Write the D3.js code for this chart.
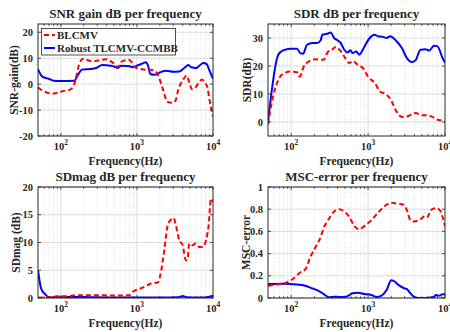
<!DOCTYPE html>
<html><head><meta charset="utf-8">
<script src="https://cdn.jsdelivr.net/npm/d3@7/dist/d3.min.js"></script>
<style>
body{margin:0;background:#fff;}
svg text{font-family:"Liberation Serif","Times New Roman",serif;font-weight:bold;fill:#262626;}
</style></head>
<body><svg id="c" width="450" height="332"></svg>
<script>
// ---------- DATA ----------
const seriesNames = ["BLCMV", "Robust TLCMV-CCMBB"];
const xTickValues = [100, 1000, 10000];
const xTickExponents = ["2", "3", "4"];

// Panel 1: SNR gain
const snrRedF = [50,57,65,78,90,110,130,145,160,175,195,220,260,330,400,470,520,560,620,700,800,870,950,1100,1300,1500,1750,1950,2200,2500,2900,3200,3500,4000,4500,4900,5300,5800,6500,7200,7800,8400,9000,9500,10000];
const snrRedV = [-1.3,-2.5,-3.2,-3.6,-3.3,-2.6,-2.2,-1.0,3,8,9.7,9.3,8.8,9.3,9.6,8.5,7.5,6.6,8.5,9.2,9.3,8.0,6.5,5.9,5.6,5.6,5.0,2.5,-2,-6.8,-7.2,-6.5,-2.0,1.5,3.3,0.5,-2.0,-1.5,0.5,1.8,0.5,-1.0,-6.0,-9.5,-12.5];
const snrBlueF = [50,57,70,80,100,150,165,190,240,290,350,450,500,560,620,800,900,1000,1200,1300,1400,1500,1700,2000,2400,3000,3600,4300,4700,5200,6000,6600,7500,8200,9000,10000];
const snrBlueV = [5.8,2.9,2.0,1.3,1.2,1.3,3.2,5.6,5.8,6.2,7.4,7.1,6.8,6.2,7.1,6.9,6.5,7.1,8.0,8.4,7.1,3.9,3.6,4.5,5.2,4.8,4.9,6.5,7.4,6.5,6.2,7.1,8.2,7.8,5.2,2.0];
const snrTicks = [-20,-10,0,10,20];

// Panel 2: SDR
const sdrRedF = [50,58,72,83,97,119,129,146,169,208,242,262,296,345,380,420,490,570,630,735,860,1000,1230,1440,1650,1930,2360,2750,3200,4130,5100,5900,6900,8000,9300,10000];
const sdrRedV = [-0.8,9,16.2,17.6,18,17.8,16.2,19.8,21.6,22.4,22.2,22.2,24.8,26,26.8,26,23.4,21,21.8,20.4,19.2,16.2,13.8,10.8,10.2,8.4,3.6,1.8,2,3.2,2.4,2.4,1.8,0.8,0.4,0];
const sdrBlueF = [50,68,79,97,119,131,143,161,188,218,242,254,296,327,362,400,442,490,542,588,630,700,774,830,900,1050,1200,1350,1570,1740,1930,2250,2750,3200,3720,4130,4800,5600,6200,7200,8000,9300,10000];
const sdrBlueV = [0,24,25.6,26.2,26.2,24.6,24.4,27.6,28.2,28.2,29.2,31.2,31.5,32,30,29.2,28.2,25.8,24.8,25.6,24.6,25.2,24,25.2,27,30,31.2,30.6,30.4,30,30.6,29.4,26.4,22.8,21.4,22,25.8,26,25.5,27.2,27,22.8,21.2];
const sdrTicks = [0,10,20,30];

// Panel 3: SDmag
const sdmRedF = [50,60,70,90,130,150,300,500,800,877,1060,1300,1530,1880,2070,2300,2540,2800,3030,3250,3600,3990,4400,4640,4870,5400,5850,6600,7300,8100,8760,9400,10000];
const sdmRedV = [0.05,0.1,0.15,0.3,0.35,0.5,0.5,0.45,0.5,1.1,1.6,2.1,2.6,2.8,4.7,8.9,13.1,14.1,14.4,13.1,10.4,9.5,6.8,7.1,9.8,9.5,9.8,9.2,9.2,10.4,13.1,17.9,17.3];
const sdmBlueF = [50,55,62,70,100,150,250,400,1000,2000,3500,4000,4500,6000,8000,9000,10000];
const sdmBlueV = [5,1.7,0.7,0.1,0.15,0.2,0.15,0.1,0.1,0.1,0.15,0.35,0.15,0.1,0.1,0.25,0.4];
const sdmTicks = [0,5,10,15,20];

// Panel 4: MSC-error
const mscRedF = [50,65,88,107,131,153,178,208,242,268,296,327,362,420,490,570,660,770,900,1100,1350,1660,2000,2360,2900,3200,3550,3930,4800,5500,5900,6500,7600,8600,9300,10000];
const mscRedV = [0.11,0.122,0.14,0.176,0.23,0.26,0.37,0.46,0.55,0.64,0.69,0.74,0.78,0.80,0.78,0.73,0.65,0.62,0.65,0.70,0.77,0.83,0.857,0.85,0.84,0.79,0.70,0.69,0.71,0.74,0.73,0.79,0.81,0.79,0.73,0.645];
const mscBlueF = [50,79,119,153,188,230,268,311,362,420,516,630,740,900,1100,1290,1500,1740,2000,2150,2500,2900,3200,3550,3930,4600,6200,7200,7600,8400,9300,10000];
const mscBlueV = [0.125,0.128,0.122,0.11,0.087,0.063,0.033,0.006,0.012,0.009,0.012,0.042,0.048,0.036,0.027,0.009,0.021,0.072,0.16,0.155,0.116,0.09,0.08,0.042,0.012,0.0,0.003,0.009,0.027,0.021,0.033,0.033];
const mscTicks = [0,0.2,0.4,0.6,0.8,1];

// ---------- DRAW ----------
const svg = d3.select("#c");
const colors = ["#ff0000", "#0000ff"];

const panels = [
  {title:"SNR gain dB per frequency", ylabel:"SNR-gain(dB)", box:[38,213,24,136], yd:[-20,23.2], yt:snrTicks, fmt:d=>d,
   red:[snrRedF,snrRedV], blue:[snrBlueF,snrBlueV], legend:true, titleY:18, ylx:14},
  {title:"SDR dB per frequency", ylabel:"SDR(dB)", box:[268,445,24,136], yd:[-5,35], yt:sdrTicks, fmt:d=>d,
   red:[sdrRedF,sdrRedV], blue:[sdrBlueF,sdrBlueV], legend:false, titleY:18, ylx:247},
  {title:"SDmag dB per frequency", ylabel:"SDmag (dB)", box:[38,213,187,298], yd:[0,20], yt:sdmTicks, fmt:d=>d,
   red:[sdmRedF,sdmRedV], blue:[sdmBlueF,sdmBlueV], legend:false, titleY:181, ylx:16},
  {title:"MSC-error per frequency", ylabel:"MSC-error", box:[268,445,187,298], yd:[0,1], yt:mscTicks, fmt:d=>d===0?"0":d===1?"1":d3.format(".1f")(d),
   red:[mscRedF,mscRedV], blue:[mscBlueF,mscBlueV], legend:false, titleY:181, ylx:246}
];

const minorX = [];
for (const dec of [10,100,1000]) for (let k=2;k<=9;k++) { const v=k*dec; if (v>50 && v<10000) minorX.push(v); }

panels.forEach((p,i) => {
  const [L,R,T,B] = p.box;
  const x = d3.scaleLog().domain([50,10000]).range([L,R]);
  const y = d3.scaleLinear().domain(p.yd).range([B,T]);
  const g = svg.append("g");

  // minor x grid (dotted)
  g.selectAll(null).data(minorX).join("line")
    .attr("x1",d=>x(d)).attr("x2",d=>x(d)).attr("y1",T).attr("y2",B)
    .attr("stroke","#c8c8c8").attr("stroke-width",0.6).attr("stroke-dasharray","1,1.5");
  // major grid
  g.selectAll(null).data(xTickValues.filter(d=>d<10000)).join("line")
    .attr("x1",d=>x(d)).attr("x2",d=>x(d)).attr("y1",T).attr("y2",B)
    .attr("stroke","#dcdcdc").attr("stroke-width",1);
  g.selectAll(null).data(p.yt).join("line")
    .attr("x1",L).attr("x2",R).attr("y1",d=>y(d)).attr("y2",d=>y(d))
    .attr("stroke","#dcdcdc").attr("stroke-width",1);

  // clip
  const cid = "clip"+i;
  svg.append("clipPath").attr("id",cid).append("rect").attr("x",L).attr("y",T).attr("width",R-L).attr("height",B-T);

  const line = d3.line().x(d=>x(d[0])).y(d=>y(d[1])).curve(d3.curveMonotoneX);
  const lg = g.append("g").attr("clip-path",`url(#${cid})`);
  lg.append("path").datum(p.blue[0].map((f,j)=>[f,p.blue[1][j]]))
    .attr("d",line).attr("fill","none").attr("stroke",colors[1]).attr("stroke-width",2);
  lg.append("path").datum(p.red[0].map((f,j)=>[f,p.red[1][j]]))
    .attr("d",line).attr("fill","none").attr("stroke",colors[0]).attr("stroke-width",2).attr("stroke-dasharray","5,3");

  // ticks: major and minor, inward, all sides
  const tk = g.append("g").attr("stroke","#262626").attr("stroke-width",0.8);
  xTickValues.forEach(v=>{
    tk.append("line").attr("x1",x(v)).attr("x2",x(v)).attr("y1",B).attr("y2",B-3);
    tk.append("line").attr("x1",x(v)).attr("x2",x(v)).attr("y1",T).attr("y2",T+3);
  });
  minorX.forEach(v=>{
    tk.append("line").attr("x1",x(v)).attr("x2",x(v)).attr("y1",B).attr("y2",B-1.8);
    tk.append("line").attr("x1",x(v)).attr("x2",x(v)).attr("y1",T).attr("y2",T+1.8);
  });
  p.yt.forEach(v=>{
    tk.append("line").attr("x1",L).attr("x2",L+3).attr("y1",y(v)).attr("y2",y(v));
    tk.append("line").attr("x1",R).attr("x2",R-3).attr("y1",y(v)).attr("y2",y(v));
  });

  // frame
  g.append("rect").attr("x",L).attr("y",T).attr("width",R-L).attr("height",B-T)
    .attr("fill","none").attr("stroke","#262626").attr("stroke-width",1);

  // y tick labels
  g.selectAll(null).data(p.yt).join("text")
    .attr("x",L-5).attr("y",d=>y(d)).attr("dy","0.35em").attr("text-anchor","end")
    .attr("font-size",10.5).text(p.fmt);

  // x tick labels 10^n
  xTickValues.forEach((v,k)=>{
    const t = g.append("text").attr("x",x(v)).attr("y",B+14).attr("text-anchor","middle").attr("font-size",10.5);
    t.append("tspan").text("10");
    t.append("tspan").attr("dy",-5).attr("font-size",7.5).text(xTickExponents[k]);
  });

  // x label
  g.append("text").attr("x",(L+R)/2).attr("y",B+29).attr("text-anchor","middle")
    .attr("font-size",11.5).text("Frequency(Hz)");
  // y label
  g.append("text").attr("transform",`translate(${p.ylx},${(T+B)/2}) rotate(-90)`)
    .attr("text-anchor","middle").attr("dy","0.35em").attr("font-size",11.5).text(p.ylabel);
  // title
  g.append("text").attr("x",(L+R)/2).attr("y",p.titleY).attr("text-anchor","middle")
    .attr("font-size",13).attr("fill","#000").text(p.title);

  if (p.legend) {
    const lgd = g.append("g");
    lgd.append("rect").attr("x",41.5).attr("y",28.5).attr("width",134).attr("height",26.5)
      .attr("fill","#fff").attr("stroke","#262626").attr("stroke-width",0.8);
    seriesNames.forEach((n,k)=>{
      const yy = 35 + k*13;
      lgd.append("line").attr("x1",44).attr("x2",55).attr("y1",yy).attr("y2",yy)
        .attr("stroke",colors[k]).attr("stroke-width",2).attr("stroke-dasharray",k===0?"5,3":null);
      lgd.append("text").attr("x",57).attr("y",yy).attr("dy","0.35em").attr("font-size",11).text(n);
    });
  }
});
</script></body></html>
